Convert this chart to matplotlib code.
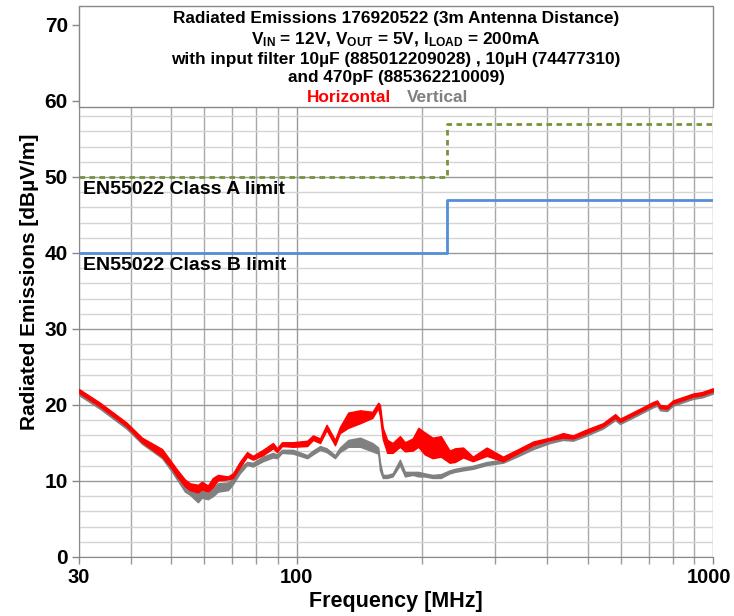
import numpy as np
import matplotlib
matplotlib.use('Agg')
import matplotlib.pyplot as plt
import matplotlib.transforms as mtransforms
from matplotlib.patches import Rectangle
from matplotlib.ticker import FixedLocator, NullFormatter

plt.rcParams['font.family'] = ['Liberation Sans', 'DejaVu Sans']
plt.rcParams['mathtext.fontset'] = 'custom'
plt.rcParams['mathtext.rm'] = 'Liberation Sans:bold'
plt.rcParams['mathtext.bf'] = 'Liberation Sans:bold'
plt.rcParams['mathtext.default'] = 'bf'

# Frequency points [MHz]
freq = [30, 33.7, 39, 42.5, 47.5, 50.2, 51.6, 53.9, 55.4, 57.9, 59.2, 61.2, 62.9,
        64.7, 68.4, 70.3, 73, 76, 78.5, 83, 87.7, 89.7, 92.2, 98, 106, 109.4,
        113.8, 118, 123.6, 127, 133, 142, 152, 157, 158.5, 161, 165, 170, 177,
        182, 190, 196, 203, 212, 222, 233, 240, 251, 265, 286, 313, 338, 370,
        406, 436, 461, 493, 544, 582, 598, 656, 718, 734, 746, 775, 801, 895,
        941, 1000]

# Horizontal polarisation (red band: lower / upper edge)
horiz_lo = [21.6, 19.8, 17.2, 15.1, 13.2, 11.6, 10.6, 9.3, 8.8, 8.5, 8.9, 8.6, 9.2,
            10.1, 10.2, 10.4, 11.8, 13.2, 12.8, 13.4, 14.3, 13.8, 14.6, 14.5, 14.6, 15.4,
            15.0, 16.7, 14.7, 16.3, 17.0, 17.6, 18.3, 19.6, 18.5, 15.5, 13.7, 13.7, 14.5,
            13.9, 14.0, 14.5, 13.5, 13.0, 13.2, 12.4, 12.5, 13.1, 12.6, 13.3, 12.6, 13.6, 14.7,
            15.4, 15.7, 15.6, 16.2, 17.2, 18.3, 17.8, 18.9, 20.0, 20.2, 19.6, 19.5, 20.2, 21.1,
            21.3, 21.8]
horiz_hi = [22.1, 20.3, 17.7, 15.7, 14.2, 12.4, 11.5, 10.2, 9.7, 9.5, 9.9, 9.4, 10.4,
            10.8, 10.6, 11.0, 12.5, 13.8, 13.3, 14.1, 15.0, 14.3, 15.1, 15.1, 15.3, 16.0,
            15.6, 17.4, 15.4, 17.1, 19.0, 19.3, 19.1, 20.3, 20.0, 17.0, 15.4, 15.0, 15.9,
            15.1, 15.6, 17.0, 16.4, 15.7, 15.9, 14.0, 14.3, 14.4, 13.2, 14.4, 13.2, 14.1, 15.2,
            15.7, 16.3, 16.0, 16.7, 17.6, 18.8, 18.2, 19.3, 20.4, 20.6, 20.0, 19.9, 20.6, 21.5,
            21.7, 22.2]

# Vertical polarisation (grey band: lower / upper edge)
vert_lo = [21.3, 19.5, 16.9, 14.9, 13.0, 11.2, 10.2, 8.6, 8.2, 7.2, 7.8, 7.6, 8.0,
           8.6, 8.8, 9.6, 11.0, 12.1, 11.9, 12.6, 13.1, 13.0, 13.7, 13.6, 13.0, 13.5,
           14.1, 13.8, 13.0, 13.8, 14.5, 14.5, 13.9, 13.6, 11.4, 10.4, 10.4, 10.6, 12.1,
           10.6, 10.8, 10.6, 10.6, 10.4, 10.4, 11.0, 11.2, 11.4, 11.6, 12.1, 12.4, 13.2, 14.2,
           15.0, 15.4, 15.3, 15.9, 16.9, 18.0, 17.5, 18.6, 19.7, 19.9, 19.3, 19.2, 19.9, 20.8,
           21.0, 21.5]
vert_hi = [21.9, 20.1, 17.5, 15.5, 13.8, 12.0, 11.0, 9.6, 9.2, 8.6, 8.8, 8.4, 9.0,
           9.7, 9.8, 10.4, 11.8, 12.5, 12.4, 13.2, 13.7, 13.5, 14.1, 14.1, 13.4, 14.0,
           14.6, 14.3, 13.4, 14.4, 15.4, 15.7, 15.0, 14.4, 12.5, 10.8, 10.8, 11.0, 12.8,
           11.2, 11.2, 11.2, 11.0, 10.8, 10.9, 11.4, 11.6, 11.8, 12.0, 12.5, 12.8, 13.6, 14.5,
           15.3, 15.7, 15.6, 16.2, 17.2, 18.3, 17.8, 18.9, 20.0, 20.2, 19.6, 19.5, 20.2, 21.1,
           21.3, 21.8]

# EN55022 limits
limit_freq = [30, 230, 230, 1000]
class_a = [50, 50, 57, 57]
class_b = [40, 40, 47, 47]

x_major = [30, 100, 1000]
x_minor = [40, 50, 60, 70, 80, 90, 200, 300, 400, 500, 600, 700, 800, 900]

fig = plt.figure(figsize=(7.34, 6.16), dpi=100)
ax = fig.add_axes([0.1076, 0.0958, 0.8638, 0.8945])
ax.set_xscale('log')
ax.set_xlim(30, 1000)
ax.set_ylim(0, 72.5)

# data bands
ax.fill_between(freq, vert_lo, vert_hi, color='#808080', lw=1.0, zorder=3)
ax.fill_between(freq, horiz_lo, horiz_hi, color='#FF0000', lw=1.0, zorder=4)

# limit lines
ax.plot(limit_freq, class_a, color='#77933C', lw=2, linestyle=(0, (2, 1.6)), zorder=4)
ax.plot(limit_freq, class_b, color='#558ED5', lw=2, zorder=4)
ax.text(30.7, 49.5, 'EN55022 Class A limit', fontsize=14, fontweight='bold', va='top', ha='left', zorder=6)
ax.text(30.7, 39.5, 'EN55022 Class B limit', fontsize=14, fontweight='bold', va='top', ha='left', zorder=6)

# ticks and grid
ax.xaxis.set_major_locator(FixedLocator(x_major))
ax.xaxis.set_minor_locator(FixedLocator(x_minor))
ax.xaxis.set_minor_formatter(NullFormatter())
ax.set_xticklabels(['30', '100', '1000'])
ax.set_yticks(np.arange(0, 71, 10))
ax.yaxis.set_minor_locator(FixedLocator(np.arange(2, 60, 2)))
ax.tick_params(axis='y', which='major', labelsize=15, length=5, color='#888888', width=1, pad=3)
ax.tick_params(axis='x', which='major', labelsize=14.5, length=5, color='#888888', width=1, pad=3)
ax.tick_params(axis='x', which='minor', length=5, color='#999999', width=1)
ax.tick_params(axis='y', which='minor', length=0)
for lab in ax.get_xticklabels() + ax.get_yticklabels():
    lab.set_fontweight('bold')
# keep the last x label inside the figure
last = ax.get_xticklabels()[-1]
last.set_transform(last.get_transform() + mtransforms.ScaledTranslation(-4 / 100, 0, fig.dpi_scale_trans))

ax.set_axisbelow(True)
ax.grid(True, which='major', color='#999999', lw=1)
ax.grid(True, which='minor', axis='y', color='#d4d4d4', lw=1)
ax.grid(True, which='minor', axis='x', color='#a8a8a8', lw=1)
for s in ['top', 'right']:
    ax.spines[s].set_visible(False)
for s in ['left', 'bottom']:
    ax.spines[s].set_color('#888888')

ax.set_xlabel('Frequency [MHz]', fontsize=15.5, fontweight='bold', labelpad=3)
ax.set_ylabel('Radiated Emissions [dBµV/m]', fontsize=15, fontweight='bold', labelpad=4)

# title box on top of the plot
box_bottom = 59.2 / 72.5
ax.add_patch(Rectangle((0, box_bottom), 1, 1 - box_bottom, transform=ax.transAxes,
                       facecolor='white', edgecolor='#888888', lw=1, zorder=5, clip_on=False))
title_lines = ['Radiated Emissions 176920522 (3m Antenna Distance)',
               'V$_{IN}$ = 12V, V$_{OUT}$ = 5V, I$_{LOAD}$ = 200mA',
               'with input filter 10µF (885012209028) , 10µH (74477310)',
               'and 470pF (885362210009)']
title_y = [70.9, 68.1, 65.5, 63.1]
for txt, yy in zip(title_lines, title_y):
    ax.text(0.5, yy, txt, transform=ax.get_yaxis_transform(), ha='center', va='center',
            fontsize=12.4, fontweight='bold', zorder=6)
ax.text(0.426, 60.4, 'Horizontal', transform=ax.get_yaxis_transform(), ha='center', va='center',
        fontsize=12.4, fontweight='bold', color='#FF0000', zorder=6)
ax.text(0.566, 60.4, 'Vertical', transform=ax.get_yaxis_transform(), ha='center', va='center',
        fontsize=12.4, fontweight='bold', color='#808080', zorder=6)

fig.savefig('out.png', dpi=100)
